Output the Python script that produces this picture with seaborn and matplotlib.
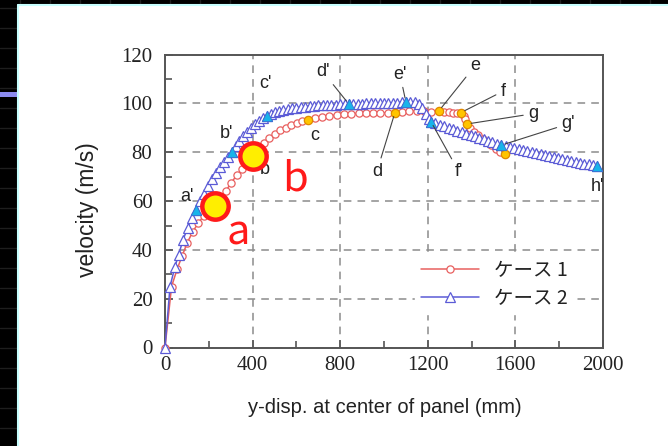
import numpy as np
import pandas as pd
import matplotlib
matplotlib.use("Agg")
import matplotlib.pyplot as plt
from matplotlib.patches import Rectangle
from matplotlib.lines import Line2D
import seaborn as sns

# ---------------- data ----------------
case2_x = [0, 23, 45, 62, 82, 103, 122, 142, 160, 178, 196, 214, 232, 250, 268, 286,
           304, 322, 340, 358, 376, 394, 412, 430, 448, 466, 484, 502, 520, 540, 560,
           580, 600, 620, 640, 660, 680, 700, 720, 740, 760, 780, 800, 820, 840, 860,
           880, 900, 920, 940, 960, 980, 1000, 1020, 1040, 1060, 1080, 1100, 1120,
           1140, 1160, 1175, 1190, 1205, 1215, 1235, 1255, 1275, 1295, 1315, 1335,
           1355, 1375, 1395, 1415, 1435, 1455, 1475, 1495, 1515, 1535, 1555, 1575,
           1595, 1615, 1635, 1655, 1675, 1695, 1715, 1735, 1755, 1775, 1795, 1815,
           1835, 1855, 1875, 1895, 1915, 1935, 1955, 1973]
case2_y = [0, 25, 33, 38, 44, 49, 53, 56.5, 60, 63, 66, 69, 71.5, 74, 76, 78,
           80, 82.5, 84.5, 86.5, 88.5, 90, 91.5, 92.8, 94, 95, 95.8, 96.4, 96.9, 97.3, 97.7,
           98, 98.3, 98.5, 98.7, 98.9, 99, 99.2, 99.3, 99.4, 99.5, 99.5, 99.6, 99.7, 99.7, 99.8,
           99.9, 99.9, 100, 100, 100.1, 100.1, 100.2, 100.3, 100.3, 100.4, 100.5, 100.6, 100.7,
           100.6, 99.8, 98, 95.5, 93.5, 92.5, 91.9, 91.3, 90.7, 90.1, 89.5, 88.9,
           88.3, 87.7, 87.1, 86.5, 85.9, 85.3, 84.7, 84.1, 83.5, 82.9, 82.5, 82.1,
           81.7, 81.3, 80.9, 80.5, 80.2, 79.8, 79.4, 79.0, 78.6, 78.2, 77.8, 77.4,
           77.0, 76.6, 76.2, 75.8, 75.4, 75.0, 74.7, 74.4]

case1_x = [0, 30, 55, 78, 102, 127, 152, 177, 202, 227, 252, 277, 302, 327, 352, 377,
           402, 427, 452, 477, 502, 527, 552, 577, 602, 627, 652, 685, 718, 751, 785,
           818, 851, 884, 917, 950, 983, 1016, 1050, 1083, 1116, 1150, 1183, 1216, 1251,
           1275, 1295, 1315, 1335, 1352, 1365, 1372, 1379, 1392, 1410, 1430, 1450, 1470,
           1490, 1510, 1530, 1553]
case1_y = [0, 25, 32, 37.5, 43, 47.5, 51, 54, 56, 58, 60.5, 64, 67.5, 70.5, 73, 76,
           78.5, 81.5, 84, 86, 87.5, 89, 90, 91, 92, 92.8, 93.3, 94, 94.6, 95, 95.3,
           95.6, 95.8, 96, 96, 96.1, 96.2, 96.2, 96.3, 96.6, 96.8, 97, 96.8, 96.5, 97,
           96.6, 96.5, 96.3, 96.2, 96.3, 95, 93.5, 91.6, 89.8, 88.5, 87, 85.5, 84.3,
           83, 81.5, 80.2, 79.3]

# key points: label, x on the curve, label position (data units)
case2_keys = ["a'", "b'", "c'", "d'", "e'", "f'", "g'", "h'"]
case2_key_x = [142, 304, 466, 840, 1100, 1215, 1535, 1973]
case2_label_xy = [(100, 62), (283, 87.5), (457, 108), (721, 113), (1073, 112),
                  (1342, 72), (1840, 91.6), (1973, 66)]
case2_leader = [False, False, False, True, True, True, True, False]

case1_keys = ["a", "b", "c", "d", "e", "f", "g", ""]
case1_key_x = [227, 402, 652, 1050, 1251, 1352, 1379, 1553]
case1_label_xy = [None, (457, 73), (685, 86.7), (968, 72.3), (1416, 115.5),
                  (1543, 105), (1680, 95.8), None]
case1_leader = [False, False, False, True, True, True, True, False]

big_marks = ["a", "b"]
big_text_xy = [(333, 47), (594, 69)]

legend_labels = ["ケース 1", "ケース 2"]

# ---------------- figure ----------------
sns.set_theme(style="white")
plt.rcParams["font.family"] = ["Liberation Sans", "Noto Sans CJK JP", "DejaVu Sans"]

W, H = 668, 446
fig = plt.figure(figsize=(W / 100, H / 100), dpi=100, facecolor="black")

# dark slide grid in black margin
bgz = -100
for yy in range(8, H, 20):
    fig.add_artist(Line2D([0, 17 / W], [1 - yy / H] * 2, color="#1e1e1e", lw=1, zorder=bgz))
for xx in range(20, W, 30):
    fig.add_artist(Line2D([xx / W] * 2, [1, 1 - 5 / H], color="#1e1e1e", lw=1, zorder=bgz))
fig.add_artist(Rectangle((0, 1 - 97 / H), 17 / W, 5 / H, transform=fig.transFigure,
                         facecolor="#8c8cf0", edgecolor="none", zorder=bgz))
# white panel with cyan edge
fig.add_artist(Rectangle((18 / W, 0), 1, 1 - 5 / H, transform=fig.transFigure,
                         facecolor="white", edgecolor="none", zorder=bgz))
fig.add_artist(Line2D([17.5 / W] * 2, [0, 1 - 5 / H], color="#c8ffff", lw=1.5, zorder=bgz))
fig.add_artist(Line2D([17.5 / W, 1], [1 - 5 / H] * 2, color="#c8ffff", lw=1.5, zorder=bgz))

x0, x1, y0, y1 = 165, 603, 347.5, 54.7
ax = fig.add_axes([x0 / W, (H - y0) / H, (x1 - x0) / W, (y0 - y1) / H])
ax.set_facecolor("none")
ax.set_zorder(1)

red = "#e8605f"
blue = "#5b5bd6"

df1 = pd.DataFrame({"x": case1_x, "y": case1_y})
df2 = pd.DataFrame({"x": case2_x, "y": case2_y})

sns.lineplot(data=df1, x="x", y="y", ax=ax, sort=False, estimator=None, color=red,
             lw=1.1, marker="o", markersize=5.2, markerfacecolor="white",
             markeredgecolor=red, markeredgewidth=0.9, label=legend_labels[0],
             clip_on=False, zorder=3)
sns.lineplot(data=df2, x="x", y="y", ax=ax, sort=False, estimator=None, color=blue,
             lw=1.1, marker="^", markersize=6.5, markerfacecolor="white",
             markeredgecolor=blue, markeredgewidth=0.9, label=legend_labels[1],
             clip_on=False, zorder=4)

# key markers
k2y = [case2_y[case2_x.index(v)] for v in case2_key_x]
k1y = [case1_y[case1_x.index(v)] for v in case1_key_x]
sns.scatterplot(x=case1_key_x, y=k1y, ax=ax, marker="o", s=36, color="#ffc400",
                edgecolor="#e08a00", linewidth=0.9, zorder=5, clip_on=False, legend=False)
sns.scatterplot(x=case2_key_x, y=k2y, ax=ax, marker="^", s=55, color="#18b4ea",
                edgecolor="#3a70d0", linewidth=0.6, zorder=6, clip_on=False, legend=False)

lab_kw = dict(fontsize=13, color="#222222", ha="center", va="center", zorder=7)
arr = dict(arrowstyle="-", color="#444444", lw=0.8, shrinkA=1, shrinkB=3)
for lab, kx, ky, pos, ld in zip(case2_keys, case2_key_x, k2y, case2_label_xy, case2_leader):
    if ld:
        ax.annotate(lab, xy=(kx, ky), xytext=pos, arrowprops=arr, annotation_clip=False, **lab_kw)
    else:
        ax.text(pos[0], pos[1], lab, **lab_kw)
for lab, kx, ky, pos, ld in zip(case1_keys, case1_key_x, k1y, case1_label_xy, case1_leader):
    if pos is None:
        continue
    if ld:
        ax.annotate(lab, xy=(kx, ky), xytext=pos, arrowprops=arr, annotation_clip=False, **lab_kw)
    else:
        ax.text(pos[0], pos[1], lab, **lab_kw)

# big highlight circles
for lab, tp in zip(big_marks, big_text_xy):
    i = case1_keys.index(lab)
    ax.plot(case1_key_x[i], k1y[i], marker="o", ms=19, mfc="#ffee00", mec="#ff1a1a",
            mew=3.2, zorder=9, clip_on=False)
    ax.text(tp[0], tp[1], lab, fontsize=30, color="#ff1a1a", ha="center", va="center",
            family=["Noto Sans CJK JP", "DejaVu Sans"], zorder=9)

ax.set_xlim(0, 2000)
ax.set_ylim(0, 120)
ax.set_xticks(np.arange(0, 2001, 400))
ax.set_xticks(np.arange(200, 2000, 400), minor=True)
ax.set_yticks(np.arange(0, 121, 20))
ax.set_yticks(np.arange(10, 120, 20), minor=True)
ax.grid(True, which="major", ls=(0, (5, 4)), color="#8c8c8c", lw=1.1, zorder=0)
ax.set_axisbelow(True)
for s in ax.spines.values():
    s.set_color("#555555")
    s.set_linewidth(1.4)
    s.set_visible(True)
ax.tick_params(which="both", direction="in", color="#555555", width=1.2,
               top=False, right=False, bottom=True, left=True)
ax.tick_params(which="major", length=6)
ax.tick_params(which="minor", length=5)
ax.tick_params(axis="x", which="major", pad=6)
ax.tick_params(axis="y", which="major", pad=9)
for t in ax.get_xticklabels() + ax.get_yticklabels():
    t.set_family("Liberation Serif")
    t.set_fontsize(15)
    t.set_color("#222222")

ax.set_xlabel("y-disp. at center of panel (mm)", fontsize=14.5, color="#222222")
ax.set_ylabel("velocity (m/s)", fontsize=16.5, color="#222222")
ax.xaxis.set_label_coords(0.502, -0.172)
ax.yaxis.set_label_coords(-0.15, 0.47)

leg = ax.legend(loc="center", bbox_to_anchor=(0.752, 0.216), frameon=True,
                handlelength=3.0, handletextpad=0.8, labelspacing=0.35,
                borderpad=0.3, prop={"family": ["Noto Sans CJK JP"], "size": 14})
leg.get_frame().set_facecolor("white")
leg.get_frame().set_edgecolor("white")
leg.get_frame().set_alpha(1)
leg.set_zorder(8)
for t in leg.get_texts():
    t.set_color("#222222")

fig.savefig("out.png", dpi=100, facecolor="black")
